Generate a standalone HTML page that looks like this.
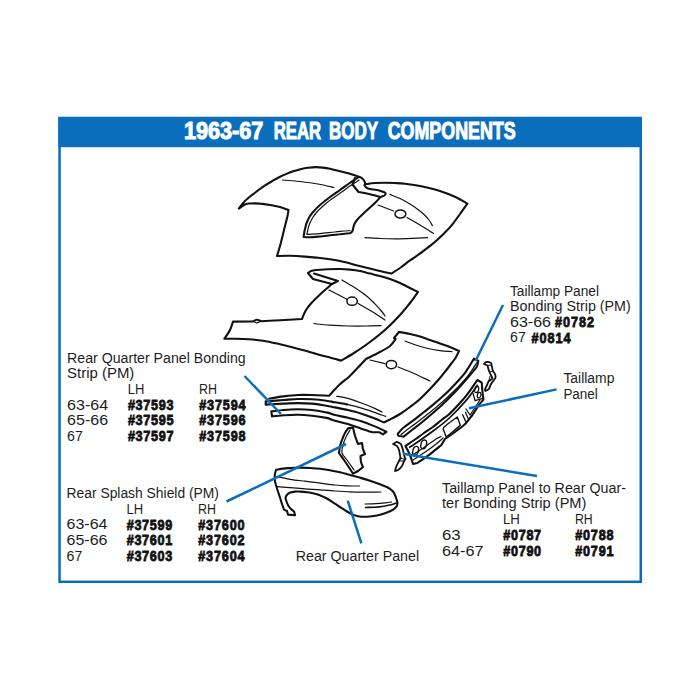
<!DOCTYPE html>
<html lang="en">
<head>
<meta charset="utf-8">
<title>1963-67 Rear Body Components</title>
<style>
html,body{margin:0;padding:0;background:#fff;}
body{width:700px;height:700px;overflow:hidden;}
svg{display:block;}
.r{font-family:"Liberation Sans",sans-serif;font-size:15.1px;fill:#1d1d1d;}
.b{font-family:"Liberation Sans",sans-serif;font-weight:bold;font-size:15.4px;fill:#111;stroke:#111;stroke-width:0.85px;}
.t{font-family:"Liberation Sans",sans-serif;font-weight:bold;font-size:24.6px;fill:#fff;stroke:#fff;stroke-width:1.1px;}
</style>
</head>
<body>
<svg width="700" height="700" viewBox="0 0 700 700">
<rect x="0" y="0" width="700" height="700" fill="#fff"/>
<!-- frame -->
<rect x="59.55" y="118" width="581.2" height="463.8" fill="#fff" stroke="#0a6ebd" stroke-width="2.5"/>
<rect x="58.3" y="117" width="583.7" height="30.2" fill="#0a6ebd"/>
<text class="t" x="183.9" y="138.6" textLength="79.4" lengthAdjust="spacingAndGlyphs">1963-67</text>
<text class="t" x="273.8" y="138.6" textLength="47.2" lengthAdjust="spacingAndGlyphs">REAR</text>
<text class="t" x="329.1" y="138.6" textLength="49" lengthAdjust="spacingAndGlyphs">BODY</text>
<text class="t" x="387.7" y="138.6" textLength="128" lengthAdjust="spacingAndGlyphs">COMPONENTS</text>

<!-- drawing -->
<g fill="none" stroke="#111" stroke-linecap="round" stroke-linejoin="round">
<path d="M238.8 208.6C239.7 207.4 242.3 203.7 244.3 201.6C246.3 199.5 248.6 197.7 251.0 195.8C253.4 193.9 256.2 191.8 258.6 190.0C261.0 188.2 263.1 186.8 265.5 185.2C267.9 183.6 270.5 182.1 272.9 180.7C275.3 179.3 277.6 178.0 280.0 176.8C282.4 175.6 284.8 174.6 287.1 173.6C289.4 172.6 291.6 171.8 294.0 171.0C296.4 170.2 299.1 169.5 301.4 168.9C303.7 168.3 305.6 168.0 308.0 167.7C310.4 167.4 313.2 167.1 315.7 167.1C318.2 167.1 320.6 167.3 323.0 167.6C325.4 167.9 327.2 168.2 330.0 168.8C332.8 169.4 336.7 170.4 340.0 171.2C343.3 172.0 347.0 172.9 350.0 173.8C353.0 174.7 356.1 175.8 358.0 176.5C359.9 177.2 360.9 177.6 361.5 177.8C361.9 178.2 363.3 179.5 364.0 180.5C364.7 181.5 365.2 183.4 365.5 184.0L367.0 184.0C368.3 183.8 372.0 183.2 375.0 183.0C378.0 182.8 381.7 182.8 385.0 182.8C388.3 182.8 391.7 182.8 395.0 183.0C398.3 183.2 400.8 183.3 405.0 183.8C409.2 184.3 414.2 184.8 420.0 186.0C425.8 187.2 434.0 189.1 440.0 191.0C446.0 192.9 451.4 195.2 456.0 197.3C460.6 199.4 465.5 202.6 467.4 203.6C466.2 205.3 462.7 210.3 460.0 214.0C457.3 217.7 454.0 222.5 451.4 225.7C448.8 228.9 446.9 230.6 444.5 233.0C442.1 235.4 439.5 237.8 437.1 240.0C434.7 242.2 432.4 244.0 430.0 245.9C427.6 247.8 425.3 249.6 422.9 251.4C420.5 253.2 418.1 254.9 415.7 256.6C413.3 258.3 411.0 259.7 408.6 261.4C406.2 263.1 404.3 265.0 401.4 267.0C398.5 269.0 393.1 272.5 391.4 273.6C389.5 273.2 383.1 271.7 380.0 271.0C376.9 270.3 376.5 270.2 372.9 269.3C369.3 268.4 363.4 266.9 358.6 265.7C353.8 264.5 349.1 263.1 344.3 262.0C339.5 260.9 334.4 260.0 330.0 259.3C325.6 258.6 322.2 258.2 318.0 257.8C313.8 257.4 309.7 257.0 305.0 256.6C300.3 256.2 294.7 255.8 290.0 255.7C285.3 255.6 279.2 255.9 277.0 256.0C277.5 254.3 278.8 250.3 280.0 246.0C281.2 241.7 282.8 235.0 284.0 230.0C285.2 225.0 286.8 219.3 287.5 216.0C288.2 212.7 288.3 211.0 288.5 210.0C287.1 209.5 283.1 207.8 280.0 207.0C276.9 206.2 273.3 205.6 270.0 205.0C266.7 204.4 263.3 203.8 260.0 203.6C256.7 203.3 252.3 203.4 250.0 203.5C247.7 203.6 247.3 203.5 246.0 204.0C244.7 204.5 243.2 205.5 242.0 206.3C240.8 207.1 239.3 208.2 238.8 208.6Z" stroke-width="2.1" fill="none"/>
<path d="M358.0 177.5C356.5 178.5 352.0 181.4 349.0 183.5C346.0 185.6 343.2 187.8 340.0 190.0C336.8 192.2 333.3 194.5 330.0 197.0C326.7 199.5 322.7 202.7 320.0 205.0C317.3 207.3 315.7 209.2 314.0 211.0C312.3 212.8 311.2 214.2 310.0 216.0C308.8 217.8 307.8 220.2 307.0 222.0C306.2 223.8 305.9 225.3 305.5 227.0C305.1 228.7 304.6 230.3 304.3 232.0C304.0 233.7 303.7 236.2 303.6 237.0C304.7 237.1 307.3 237.4 310.0 237.3C312.7 237.2 316.7 236.8 320.0 236.5C323.3 236.2 326.7 235.7 330.0 235.3C333.3 234.9 336.7 234.5 340.0 234.2C343.3 233.8 348.3 233.4 350.0 233.2C350.4 232.8 351.8 232.4 352.5 231.0C353.2 229.6 353.2 226.8 354.0 225.0C354.8 223.2 355.2 222.2 357.0 220.0C358.8 217.8 362.0 214.8 365.0 212.0C368.0 209.2 372.4 205.5 375.0 203.0C377.6 200.5 379.6 198.0 380.5 197.0" stroke-width="2.1" fill="none"/>
<path d="M359.0 180.0C357.5 181.0 353.0 183.9 350.0 186.0C347.0 188.1 344.2 190.2 341.0 192.5C337.8 194.8 334.2 197.1 331.0 199.5C327.8 201.9 324.5 204.8 322.0 207.0C319.5 209.2 317.6 211.2 316.0 213.0C314.4 214.8 313.6 216.2 312.5 218.0C311.4 219.8 310.2 222.2 309.5 224.0C308.8 225.8 308.4 227.2 308.0 229.0C307.6 230.8 307.0 233.6 306.8 234.5C309.0 234.3 315.3 234.0 320.0 233.6C324.7 233.2 330.0 232.5 335.0 232.0C340.0 231.5 347.5 230.8 350.0 230.5" stroke-width="1.2" fill="none"/>
<path d="M365.5 184.0C365.3 184.2 364.1 184.6 364.5 185.3C364.9 186.1 365.9 187.7 368.0 188.5C370.1 189.3 374.3 189.4 377.0 190.0C379.7 190.6 382.8 191.7 384.0 192.0C384.3 192.2 385.5 192.9 385.6 193.5C385.7 194.1 385.4 194.9 384.5 195.5C383.6 196.1 381.2 196.8 380.5 197.0" stroke-width="2.1" fill="none"/>
<path d="M355.0 178.0L352.5 184.5L358.5 192.0C360.2 192.3 365.3 193.2 369.0 194.0C372.7 194.8 378.6 196.5 380.5 197.0" stroke-width="2.1" fill="none"/>
<path d="M282.4 180.0C285.3 180.2 294.1 180.8 300.0 181.5C305.9 182.2 312.3 183.0 318.0 184.0C323.7 185.0 331.3 186.9 334.0 187.5" stroke-width="1.2" fill="none"/>
<path d="M405.8 214a5.4 4.1 0 1 0 -10.8 0a5.4 4.1 0 1 0 10.8 0Z" stroke-width="1.5" fill="none"/>
<path d="M378.0 205.0L393.5 211.0" stroke-width="1.2" fill="none"/>
<path d="M407.0 217.5C409.2 218.8 415.6 222.3 420.0 225.0C424.4 227.7 431.3 232.2 433.6 233.6" stroke-width="1.2" fill="none"/>
<path d="M390.0 194.4C391.7 195.1 396.7 196.9 400.0 198.5C403.3 200.1 407.0 202.2 410.0 204.0C413.0 205.8 415.7 207.8 418.0 209.5C420.3 211.2 422.2 212.8 424.0 214.5C425.8 216.2 427.6 218.2 429.0 220.0C430.4 221.8 431.8 224.7 432.4 225.6" stroke-width="1.2" fill="none"/>
<path d="M365.0 237.7C367.5 237.8 374.8 238.3 380.0 238.5C385.2 238.7 390.7 238.8 396.0 238.8C401.3 238.8 406.8 238.6 412.0 238.4C417.2 238.2 424.9 237.8 427.5 237.7" stroke-width="1.2" fill="none"/>
<path d="M308.0 273.0C308.5 272.7 309.7 271.5 311.0 271.0C312.3 270.5 313.2 270.3 316.0 270.0C318.8 269.7 324.0 269.4 328.0 269.2C332.0 269.0 336.3 268.9 340.0 269.0C343.7 269.1 346.7 269.3 350.0 269.6C353.3 269.9 356.7 270.3 360.0 271.0C363.3 271.7 366.7 272.8 370.0 273.6C373.3 274.4 376.7 275.1 380.0 276.0C383.3 276.9 386.7 277.8 390.0 279.0C393.3 280.2 397.3 281.8 400.0 283.0C402.7 284.2 404.0 285.0 406.0 286.0C408.0 287.0 410.0 288.0 412.0 289.0C414.0 290.0 417.0 291.5 418.0 292.0C416.7 293.8 413.0 299.2 410.0 303.0C407.0 306.8 404.0 310.7 400.0 315.0C396.0 319.3 391.0 324.5 386.0 329.0C381.0 333.5 375.3 338.0 370.0 342.0C364.7 346.0 358.8 349.9 354.0 353.0C349.2 356.1 343.2 359.3 341.0 360.6C339.2 360.1 333.5 358.4 330.0 357.5C326.5 356.6 324.1 356.1 320.0 355.0C315.9 353.9 310.5 352.0 305.7 350.7C300.9 349.4 296.2 348.3 291.4 347.1C286.6 345.9 281.9 344.7 277.1 343.6C272.4 342.5 267.6 341.4 262.9 340.7C258.1 340.0 253.1 339.6 248.6 339.3C244.1 339.0 240.1 338.9 236.0 338.8C231.9 338.7 226.2 338.8 224.3 338.8C225.2 337.3 228.6 332.9 230.0 330.0C231.4 327.1 232.5 323.0 233.0 321.6L253.0 321.4C253.7 321.1 255.7 319.8 257.0 319.8C258.3 319.8 260.3 321.0 261.0 321.2C264.2 321.1 273.2 320.7 280.0 320.3C286.8 319.9 298.3 319.2 302.0 319.0C302.6 317.6 304.1 313.2 305.7 310.5C307.3 307.8 309.0 305.7 311.4 303.0C313.8 300.3 316.6 297.7 320.0 294.5C323.4 291.3 330.0 285.8 332.0 284.0L313.0 279.0L308.0 273.0Z" stroke-width="2.1" fill="none"/>
<path d="M332.0 284.0L338.0 281.0L314.0 273.6" stroke-width="2.1" fill="none"/>
<path d="M253.0 321.4C253.7 321.6 255.7 322.8 257.0 322.8C258.3 322.8 260.3 321.5 261.0 321.2" stroke-width="1.2" fill="none"/>
<path d="M357.3 301.2a5.2 4.1 0 1 0 -10.4 0a5.2 4.1 0 1 0 10.4 0Z" stroke-width="1.5" fill="none"/>
<path d="M329.0 290.0L347.0 299.3" stroke-width="1.2" fill="none"/>
<path d="M358.0 303.5C360.3 304.8 367.5 308.8 372.0 311.5C376.5 314.2 382.8 318.6 385.0 320.0" stroke-width="1.2" fill="none"/>
<path d="M342.0 280.0C343.8 281.1 349.3 284.2 353.0 286.5C356.7 288.8 361.0 291.8 364.0 294.0C367.0 296.2 369.0 298.2 371.0 300.0C373.0 301.8 374.3 303.2 376.0 305.0C377.7 306.8 379.5 308.7 381.0 310.5C382.5 312.3 384.3 315.1 385.0 316.0" stroke-width="1.2" fill="none"/>
<path d="M314.0 323.6C316.7 323.9 324.3 324.8 330.0 325.2C335.7 325.6 342.0 325.9 348.0 326.0C354.0 326.1 360.5 326.1 366.0 326.0C371.5 325.9 378.5 325.7 381.0 325.6" stroke-width="1.2" fill="none"/>
<path d="M399.0 332.0C400.8 332.3 406.5 333.2 410.0 334.0C413.5 334.8 416.7 335.5 420.0 336.5C423.3 337.5 426.7 338.9 430.0 340.0C433.3 341.1 436.7 342.2 440.0 343.4C443.3 344.6 446.8 345.7 450.0 347.0C453.2 348.3 457.5 350.3 459.0 351.0C458.4 352.2 456.8 355.8 455.5 358.0C454.2 360.2 452.6 361.9 451.0 364.0C449.4 366.1 447.8 368.2 446.0 370.5C444.2 372.8 442.7 374.9 440.0 378.0C437.3 381.1 433.3 385.5 430.0 389.0C426.7 392.5 423.3 396.0 420.0 399.0C416.7 402.0 413.3 404.5 410.0 407.0C406.7 409.5 403.3 411.9 400.0 414.0C396.7 416.1 392.7 418.1 390.0 419.5C387.3 420.9 384.8 421.9 383.8 422.4C382.1 421.7 377.5 419.6 373.6 418.1C369.8 416.6 365.0 414.8 360.7 413.4C356.4 412.0 352.2 411.0 347.9 410.0C343.6 409.0 338.6 408.1 335.0 407.4C331.4 406.7 330.2 406.3 326.4 405.7C322.6 405.1 316.9 404.0 312.1 403.6C307.4 403.2 302.6 403.1 297.9 403.1C293.1 403.1 289.0 403.4 283.6 403.6C278.2 403.9 268.7 404.4 265.7 404.6L265.7 401.4C268.7 401.2 278.2 400.4 283.6 400.0C289.0 399.6 293.2 399.1 297.9 399.0C302.6 398.9 307.2 399.0 312.0 399.3C316.8 399.6 322.6 400.2 326.4 400.7C330.2 401.2 331.6 401.7 335.0 402.3C338.4 402.9 345.0 404.0 347.0 404.4" stroke-width="2.1" fill="none"/>
<path d="M347.0 404.4C349.3 405.0 356.3 406.6 360.7 407.9C365.1 409.2 369.5 410.7 373.6 412.1C377.8 413.5 383.6 415.7 385.6 416.4" stroke-width="1.2" fill="none"/>
<path d="M399.0 332.0L394.0 338.0L395.6 339.0C394.7 340.2 392.6 343.8 390.0 346.0C387.4 348.2 384.0 349.8 380.0 352.0C376.0 354.2 368.3 357.8 366.0 359.0C364.7 360.4 360.8 364.6 358.0 367.5C355.2 370.4 352.2 373.7 349.3 376.4C346.4 379.1 343.1 381.5 340.7 383.6C338.3 385.8 336.9 387.3 335.0 389.3C333.1 391.3 330.2 394.6 329.3 395.7C326.4 395.6 317.2 395.1 312.0 395.0C306.8 394.9 302.6 394.8 297.9 395.0C293.2 395.2 288.4 395.8 283.6 396.4C278.8 397.0 271.7 398.2 269.3 398.6" stroke-width="2.1" fill="none"/>
<path d="M336.7 396.3C338.6 396.6 343.9 397.3 347.9 398.4C351.9 399.5 356.4 401.1 360.7 402.7C365.0 404.3 370.1 406.3 373.6 407.9C377.2 409.4 380.6 411.3 382.0 412.0" stroke-width="1.2" fill="none"/>
<path d="M396.6 364.6a5.2 4.1 0 1 0 -10.4 0a5.2 4.1 0 1 0 10.4 0Z" stroke-width="1.5" fill="none"/>
<path d="M370.0 360.0L385.0 363.6" stroke-width="1.2" fill="none"/>
<path d="M398.0 367.0C400.7 368.1 408.7 371.2 414.0 373.5C419.3 375.8 427.3 379.8 430.0 381.0" stroke-width="1.2" fill="none"/>
<path d="M405.0 341.0C406.7 341.6 411.5 343.6 415.0 344.8C418.5 346.0 421.8 347.0 426.0 348.0C430.2 349.0 435.7 350.0 440.0 350.6C444.3 351.2 450.0 351.4 452.0 351.6" stroke-width="1.2" fill="none"/>
<path d="M271.4 411.4L272.0 416.4C273.9 416.2 279.3 415.6 283.6 415.3C287.9 415.0 293.2 414.6 297.9 414.7C302.6 414.8 307.2 415.2 312.0 415.7C316.8 416.2 322.6 417.1 326.4 417.9C330.2 418.7 331.4 419.7 335.0 420.7C338.6 421.7 343.6 422.8 347.9 424.1C352.2 425.4 357.1 427.2 360.7 428.4C364.3 429.6 367.3 430.8 369.3 431.4C371.3 432.0 372.1 432.1 372.7 432.3L379.6 432.3L383.0 434.4L386.4 431.8C385.8 431.5 385.1 431.1 383.0 430.1C380.9 429.1 377.3 427.4 373.6 425.9C369.9 424.4 365.0 422.5 360.7 421.1C356.4 419.7 352.2 418.7 347.9 417.7C343.6 416.7 338.6 416.0 335.0 415.1C331.4 414.2 330.2 413.2 326.4 412.4C322.6 411.5 316.8 410.5 312.0 410.0C307.2 409.5 302.6 409.3 297.9 409.3C293.2 409.3 288.0 409.6 283.6 410.0C279.2 410.4 273.4 411.2 271.4 411.4Z" stroke-width="2.1" fill="none"/>
<path d="M348.0 428.4L353.0 427.6C353.2 428.3 353.6 430.4 354.0 432.0C354.4 433.6 354.7 435.0 355.4 437.0C356.1 439.0 357.6 442.8 358.0 444.0L362.0 443.0C362.2 444.0 362.5 447.2 363.0 449.0C363.5 450.8 364.7 453.2 365.0 454.0L360.5 456.0C360.6 457.0 360.6 460.2 361.0 462.0C361.4 463.8 362.7 466.2 363.0 467.0C362.2 467.7 359.7 469.9 358.0 471.0C356.3 472.1 353.8 473.2 353.0 473.6C352.2 472.3 349.5 468.3 348.0 466.0C346.5 463.7 345.5 462.2 344.0 460.0C342.5 457.8 339.8 454.2 339.0 453.0C339.2 451.8 339.5 448.2 340.0 446.0C340.5 443.8 341.2 442.2 342.0 440.0C342.8 437.8 344.0 434.9 345.0 433.0C346.0 431.1 347.5 429.2 348.0 428.4Z" stroke-width="2.1" fill="none"/>
<path d="M350.0 430.0C349.3 431.2 347.2 434.5 346.0 437.0C344.8 439.5 343.7 442.3 343.0 445.0C342.3 447.7 341.3 450.5 342.0 453.0C342.7 455.5 345.0 457.2 347.0 460.0C349.0 462.8 352.8 468.3 354.0 470.0" stroke-width="1.2" fill="none"/>
<path d="M474.0 358.6C472.6 360.9 468.1 368.6 465.4 372.3C462.7 376.0 460.6 378.1 458.0 381.0C455.4 383.9 452.7 386.7 450.0 389.4C447.3 392.1 444.9 394.4 442.0 397.0C439.1 399.6 435.9 402.4 432.9 404.9C429.9 407.4 426.9 409.7 424.0 412.0C421.1 414.3 418.4 416.6 415.7 418.6C413.0 420.7 410.3 422.6 408.0 424.3C405.7 426.0 403.7 427.3 402.0 428.9C400.3 430.5 398.4 433.1 397.7 434.0C397.9 434.3 397.6 435.5 398.6 435.9C399.6 436.3 402.9 436.5 403.7 436.6C405.1 435.5 409.4 432.0 412.3 429.7C415.2 427.4 418.1 425.3 421.0 423.0C423.9 420.7 426.6 418.4 429.4 416.0C432.2 413.6 435.1 411.1 438.0 408.5C440.9 405.9 443.8 403.4 446.6 400.6C449.4 397.9 452.4 394.7 455.0 392.0C457.6 389.3 459.5 387.1 462.0 384.3C464.5 381.5 467.6 377.9 470.0 375.0C472.4 372.1 475.2 369.3 476.6 367.0C478.0 364.7 478.0 362.0 478.3 361.0L474.0 358.6Z" stroke-width="2.1" fill="none"/>
<path d="M476.5 363.0C475.2 365.0 472.3 370.2 468.5 375.0C464.7 379.8 458.8 386.2 453.5 391.5C448.2 396.8 442.2 402.2 436.5 407.0C430.8 411.8 424.7 416.5 419.5 420.5C414.3 424.5 408.6 428.6 405.5 431.0C402.4 433.4 401.8 434.2 401.0 434.8" stroke-width="1.2" fill="none"/>
<path d="M477.4 380.0C475.7 382.4 470.2 390.6 467.1 394.6C464.0 398.6 461.9 400.9 459.0 404.0C456.1 407.1 453.0 410.6 450.0 413.4C447.0 416.1 443.9 418.2 441.0 420.5C438.1 422.8 435.7 424.9 432.9 427.0C430.1 429.1 426.9 431.0 424.0 433.0C421.1 435.0 418.8 436.8 415.7 439.0C412.6 441.2 407.1 444.8 405.4 446.0C406.1 447.4 408.4 451.6 409.7 454.6C411.0 457.6 412.4 462.4 413.0 464.0L417.4 463.0C419.4 461.6 425.4 457.6 429.4 454.6C433.4 451.6 439.4 446.6 441.4 445.0L444.9 439.0C446.6 437.8 451.6 434.6 455.0 432.0C458.4 429.4 462.5 426.5 465.4 423.7C468.3 420.9 470.0 418.1 472.3 415.0C474.6 411.9 477.1 407.4 479.0 404.9C480.9 402.3 482.7 400.6 483.4 399.7C483.3 398.6 482.9 395.8 482.6 392.9C482.3 390.0 481.9 384.3 481.7 382.6L477.4 380.0Z" stroke-width="2.1" fill="none"/>
<path d="M477.3 385.3C475.5 387.7 471.2 394.4 466.6 399.9C462.0 405.3 455.1 412.7 449.4 418.0C443.6 423.3 437.8 427.5 432.1 431.8C426.4 436.1 418.8 441.2 415.0 443.8C411.2 446.4 410.5 446.7 409.6 447.3" stroke-width="1.7" fill="none"/>
<path d="M443.2 429.0C443.5 428.5 442.6 428.2 445.0 426.2C447.4 424.2 455.2 418.5 457.3 417.0L460.3 425.3C459.1 426.3 455.4 429.6 453.0 431.5C450.6 433.4 447.3 436.1 446.2 437.0L443.2 429.0Z" stroke-width="1.4" fill="none"/>
<path d="M426.4 444.4a2.7 3.6 25 1 0 -5.4 0a2.7 3.6 25 1 0 5.4 0Z" stroke-width="1.4" fill="none"/>
<path d="M418.3 450.8a2.7 3.6 25 1 0 -5.4 0a2.7 3.6 25 1 0 5.4 0Z" stroke-width="1.4" fill="none"/>
<path d="M411.0 456.0C413.2 454.6 419.8 450.3 424.0 447.5C428.2 444.7 433.2 440.8 436.0 439.0C438.8 437.2 440.2 436.9 441.0 436.5" stroke-width="1.2" fill="none"/>
<path d="M413.0 460.0C415.2 458.6 421.8 454.4 426.0 451.5C430.2 448.6 435.2 444.8 438.0 442.5C440.8 440.2 442.2 438.8 443.0 438.0" stroke-width="1.2" fill="none"/>
<path d="M462.6 414.8L466.0 422.0" stroke-width="1.4" fill="none"/>
<path d="M465.5 412.2L468.6 419.5" stroke-width="1.2" fill="none"/>
<path d="M466.0 409.0L470.0 415.0C471.0 413.5 474.3 408.5 476.0 406.0C477.7 403.5 479.3 401.0 480.0 400.0" stroke-width="1.2" fill="none"/>
<path d="M478.6 389.6a1.9 2.6 20 1 0 -3.8 0a1.9 2.6 20 1 0 3.8 0Z" stroke-width="1.3" fill="none"/>
<path d="M480.8 395.2a1.7 2.3 20 1 0 -3.4 0a1.7 2.3 20 1 0 3.4 0Z" stroke-width="1.3" fill="none"/>
<path d="M473.0 393.5L475.0 400.5L482.0 398.5" stroke-width="1.3" fill="none"/>
<path d="M484.0 364.0C484.4 363.7 485.3 362.2 486.5 362.0C487.7 361.8 490.2 362.5 491.0 363.0C491.8 363.5 491.4 364.7 491.5 365.0C491.8 366.0 492.4 369.5 493.0 371.0C493.6 372.5 494.6 372.9 495.0 374.0C495.4 375.1 495.7 376.5 495.5 377.5C495.3 378.5 494.2 379.6 494.0 380.0C493.5 380.7 491.8 382.5 491.0 384.0C490.2 385.5 489.3 388.2 489.0 389.0L485.5 391.0C485.4 390.8 484.8 390.5 485.0 389.5C485.2 388.5 486.4 386.3 487.0 385.0C487.6 383.7 488.2 382.1 488.5 381.5L492.5 378.5C492.2 377.9 491.6 376.2 491.0 375.0C490.4 373.8 489.6 372.6 489.0 371.0C488.4 369.4 487.8 366.4 487.5 365.5L484.0 364.0Z" stroke-width="1.8" fill="none"/>
<path d="M487.5 365.5L491.5 365.0" stroke-width="1.2" fill="none"/>
<path d="M489.5 372.0L493.0 371.0" stroke-width="1.0" fill="none"/>
<path d="M488.5 381.5L490.0 376.5" stroke-width="1.0" fill="none"/>
<path d="M393.0 444.0C393.7 443.7 395.7 442.0 397.0 442.0C398.3 442.0 400.3 443.7 401.0 444.0C401.3 445.0 402.5 448.2 403.0 450.0C403.5 451.8 403.6 453.5 404.0 455.0C404.4 456.5 405.2 458.3 405.5 459.0L404.0 461.0C403.7 461.8 403.0 464.5 402.0 466.0C401.0 467.5 399.2 469.2 398.0 470.0C396.8 470.8 395.5 470.8 395.0 471.0C395.2 470.2 395.8 467.7 396.5 466.0C397.2 464.3 398.6 461.8 399.0 461.0L400.5 458.0C400.2 456.7 399.6 452.0 399.0 450.0C398.4 448.0 397.3 446.7 397.0 446.0L393.0 444.0Z" stroke-width="1.8" fill="none"/>
<path d="M400.5 458.0L405.0 459.5" stroke-width="1.0" fill="none"/>
<path d="M399.0 461.0L404.0 461.0" stroke-width="1.0" fill="none"/>
<path d="M276.0 470.0C277.2 469.8 280.7 468.9 283.0 468.6C285.3 468.3 287.2 468.2 290.0 468.0C292.8 467.8 296.7 467.6 300.0 467.6C303.3 467.6 306.7 467.8 310.0 468.0C313.3 468.2 316.7 468.4 320.0 468.8C323.3 469.2 326.7 469.7 330.0 470.3C333.3 470.9 336.7 471.5 340.0 472.3C343.3 473.1 346.9 474.2 350.0 475.0C353.1 475.8 355.3 476.3 358.6 477.3C361.9 478.3 366.4 479.6 370.0 480.8C373.6 482.0 377.5 483.4 380.0 484.3C382.5 485.2 383.3 485.4 385.0 486.2C386.7 486.9 388.7 487.9 390.0 488.8C391.3 489.7 392.2 490.5 393.0 491.5C393.8 492.5 394.4 493.8 395.0 495.0C395.6 496.2 396.2 498.3 396.4 499.0C396.6 499.6 397.3 501.3 397.4 502.5C397.5 503.7 397.4 504.9 396.8 506.0C396.2 507.1 395.1 508.1 394.0 509.0C392.9 509.9 391.5 510.6 390.0 511.3C388.5 512.0 386.8 512.7 385.0 513.3C383.2 513.9 381.2 514.5 379.0 515.0C376.8 515.5 374.5 515.9 372.0 516.2C369.5 516.5 366.3 516.8 364.0 516.8C361.7 516.8 359.7 516.5 358.0 516.2C356.3 515.9 354.7 515.4 354.0 515.2C352.8 514.6 349.3 512.9 347.0 511.5C344.7 510.1 342.3 508.5 340.0 507.0C337.7 505.5 335.3 503.8 333.0 502.3C330.7 500.8 328.2 499.2 326.0 498.0C323.8 496.8 322.0 496.1 320.0 495.3C318.0 494.5 316.2 493.9 314.0 493.4C311.8 492.9 309.3 492.5 307.0 492.2C304.7 491.9 302.0 491.7 300.0 491.6C298.0 491.5 296.7 491.4 295.0 491.6C293.3 491.8 291.2 492.2 290.0 492.6C288.8 493.1 288.2 493.5 287.5 494.3C286.8 495.1 285.8 496.3 285.6 497.5C285.4 498.7 286.0 500.1 286.5 501.5C287.0 502.9 287.7 504.7 288.5 506.0C289.3 507.3 290.6 508.6 291.5 509.5C292.4 510.4 293.4 510.7 294.0 511.6C294.6 512.6 294.8 514.6 295.0 515.2L288.0 514.6L287.0 511.0L284.0 509.6C283.7 508.7 282.7 506.0 282.0 504.0C281.3 502.0 280.7 499.7 280.0 497.5C279.3 495.3 278.5 493.1 277.8 491.0C277.1 488.9 276.5 486.8 276.0 485.0C275.5 483.2 275.0 481.7 274.8 480.0C274.6 478.3 274.6 476.7 274.8 475.0C275.0 473.3 275.8 470.8 276.0 470.0Z" stroke-width="2.1" fill="none"/>
<path d="M276.5 476.6C278.8 477.1 285.2 478.5 290.0 479.3C294.8 480.1 300.0 480.6 305.0 481.2C310.0 481.8 315.0 482.6 320.0 483.2C325.0 483.8 330.5 484.6 335.0 485.0C339.5 485.4 342.9 485.6 347.0 485.8C351.1 486.0 357.4 486.0 359.5 486.0" stroke-width="1.2" fill="none"/>
<path d="M277.0 486.6C279.2 486.8 285.3 487.2 290.0 487.6C294.7 488.0 300.0 488.4 305.0 488.8C310.0 489.2 315.0 489.4 320.0 489.8C325.0 490.2 330.0 490.7 335.0 491.0C340.0 491.3 345.0 491.6 350.0 491.8C355.0 492.0 359.8 492.2 365.0 492.2C370.2 492.2 378.3 492.0 381.0 492.0" stroke-width="1.2" fill="none"/>
<path d="M365.0 504.0C366.2 504.0 369.5 504.0 372.0 503.9C374.5 503.8 377.7 503.6 380.0 503.4C382.3 503.2 384.1 503.0 386.0 502.8C387.9 502.6 390.6 502.1 391.5 502.0" stroke-width="1.2" fill="none"/>
<path d="M365.5 507.5C367.1 507.4 371.9 507.4 375.0 507.2C378.1 507.0 381.3 506.6 384.0 506.2C386.7 505.8 388.9 505.3 391.0 504.8C393.1 504.3 395.6 503.3 396.5 503.0" stroke-width="1.6" fill="none"/>
</g>

<!-- leader lines -->
<g stroke="#0a6ebd" stroke-width="2.5" stroke-linecap="butt" fill="none">
<line x1="244.5" y1="376" x2="281" y2="414"/>
<line x1="226.5" y1="501.5" x2="346" y2="444"/>
<line x1="503" y1="305" x2="475.5" y2="361"/>
<line x1="556.6" y1="389.4" x2="469" y2="408.3"/>
<line x1="537" y1="476" x2="403" y2="453.7"/>
<line x1="347.7" y1="500.6" x2="361.4" y2="543.4"/>
</g>

<!-- labels -->
<g>
<text class="r" x="67.1" y="362.5" textLength="178.6" lengthAdjust="spacingAndGlyphs">Rear Quarter Panel Bonding</text>
<text class="r" x="67.1" y="378.3" textLength="67.2" lengthAdjust="spacingAndGlyphs">Strip (PM)</text>
<text class="r" x="127.7" y="394.0" textLength="16.6" lengthAdjust="spacingAndGlyphs">LH</text>
<text class="r" x="199" y="394.0" textLength="18" lengthAdjust="spacingAndGlyphs">RH</text>
<text class="r" x="67.1" y="409.5" textLength="41" lengthAdjust="spacingAndGlyphs">63-64</text>
<text class="b" transform="translate(127.9,409.8) scale(0.82,1)" textLength="55.6" lengthAdjust="spacing">#37593</text>
<text class="b" transform="translate(199.2,409.8) scale(0.82,1)" textLength="56.5" lengthAdjust="spacing">#37594</text>
<text class="r" x="67.1" y="425.1" textLength="41" lengthAdjust="spacingAndGlyphs">65-66</text>
<text class="b" transform="translate(127.9,425.4) scale(0.82,1)" textLength="55.6" lengthAdjust="spacing">#37595</text>
<text class="b" transform="translate(199.2,425.4) scale(0.82,1)" textLength="56.5" lengthAdjust="spacing">#37596</text>
<text class="r" x="67.1" y="440.7" textLength="15.8" lengthAdjust="spacingAndGlyphs">67</text>
<text class="b" transform="translate(127.9,441.0) scale(0.82,1)" textLength="55.6" lengthAdjust="spacing">#37597</text>
<text class="b" transform="translate(199.2,441.0) scale(0.82,1)" textLength="56.5" lengthAdjust="spacing">#37598</text>

<text class="r" x="66.5" y="498.4" textLength="152.5" lengthAdjust="spacingAndGlyphs">Rear Splash Shield (PM)</text>
<text class="r" x="126.5" y="514.1" textLength="16.6" lengthAdjust="spacingAndGlyphs">LH</text>
<text class="r" x="198" y="514.1" textLength="18" lengthAdjust="spacingAndGlyphs">RH</text>
<text class="r" x="66.5" y="529.4" textLength="41" lengthAdjust="spacingAndGlyphs">63-64</text>
<text class="b" transform="translate(126.7,529.7) scale(0.82,1)" textLength="55.6" lengthAdjust="spacing">#37599</text>
<text class="b" transform="translate(198.2,529.7) scale(0.82,1)" textLength="56.5" lengthAdjust="spacing">#37600</text>
<text class="r" x="66.5" y="545.0" textLength="41" lengthAdjust="spacingAndGlyphs">65-66</text>
<text class="b" transform="translate(126.7,545.3) scale(0.82,1)" textLength="55.6" lengthAdjust="spacing">#37601</text>
<text class="b" transform="translate(198.2,545.3) scale(0.82,1)" textLength="56.5" lengthAdjust="spacing">#37602</text>
<text class="r" x="66.5" y="560.6" textLength="15.8" lengthAdjust="spacingAndGlyphs">67</text>
<text class="b" transform="translate(126.7,560.9) scale(0.82,1)" textLength="55.6" lengthAdjust="spacing">#37603</text>
<text class="b" transform="translate(198.2,560.9) scale(0.82,1)" textLength="56.5" lengthAdjust="spacing">#37604</text>

<text class="r" x="510" y="295.7" textLength="89" lengthAdjust="spacingAndGlyphs">Taillamp Panel</text>
<text class="r" x="510" y="311.3" textLength="120.8" lengthAdjust="spacingAndGlyphs">Bonding Strip (PM)</text>
<text class="r" x="510" y="326.9" textLength="41" lengthAdjust="spacingAndGlyphs">63-66</text>
<text class="b" transform="translate(555.1,327.2) scale(0.82,1)" textLength="47.6" lengthAdjust="spacing">#0782</text>
<text class="r" x="510" y="342.3" textLength="15.8" lengthAdjust="spacingAndGlyphs">67</text>
<text class="b" transform="translate(531.6,342.6) scale(0.82,1)" textLength="47.6" lengthAdjust="spacing">#0814</text>

<text class="r" x="563.4" y="383.0" textLength="51" lengthAdjust="spacingAndGlyphs">Taillamp</text>
<text class="r" x="563.4" y="398.5" textLength="34.3" lengthAdjust="spacingAndGlyphs">Panel</text>

<text class="r" x="442" y="492.5" textLength="184" lengthAdjust="spacingAndGlyphs">Taillamp Panel to Rear Quar-</text>
<text class="r" x="442" y="508.4" textLength="144.4" lengthAdjust="spacingAndGlyphs">ter Bonding Strip (PM)</text>
<text class="r" x="503" y="524.0" textLength="16.9" lengthAdjust="spacingAndGlyphs">LH</text>
<text class="r" x="575" y="524.0" textLength="17.7" lengthAdjust="spacingAndGlyphs">RH</text>
<text class="r" x="442" y="539.9" textLength="18.7" lengthAdjust="spacingAndGlyphs">63</text>
<text class="b" transform="translate(503.2,540.2) scale(0.82,1)" textLength="46.3" lengthAdjust="spacing">#0787</text>
<text class="b" transform="translate(575.2,540.2) scale(0.82,1)" textLength="46.7" lengthAdjust="spacing">#0788</text>
<text class="r" x="442" y="555.6" textLength="41.6" lengthAdjust="spacingAndGlyphs">64-67</text>
<text class="b" transform="translate(503.2,555.9) scale(0.82,1)" textLength="46.3" lengthAdjust="spacing">#0790</text>
<text class="b" transform="translate(575.2,555.9) scale(0.82,1)" textLength="46.7" lengthAdjust="spacing">#0791</text>

<text class="r" x="295.7" y="561.2" textLength="123.4" lengthAdjust="spacingAndGlyphs">Rear Quarter Panel</text>
</g>
</svg>
</body>
</html>
